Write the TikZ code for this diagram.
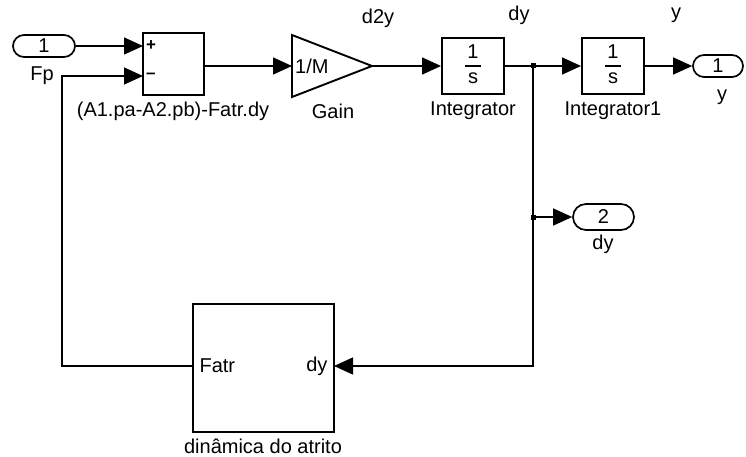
\documentclass[tikz,border=0pt]{standalone}
\usepackage{fontspec}
\setmainfont{Liberation Sans}
\usetikzlibrary{arrows.meta}

\newcommand{\oneovers}{\setlength{\arrayrulewidth}{1.2pt}%
  \begin{tabular}{@{\hspace{2pt}}c@{\hspace{2pt}}}1\\\hline s\end{tabular}}

\begin{document}
\begin{tikzpicture}[x=1pt, y=-1pt, >={Triangle[length=19pt,width=17pt]},
    font=\fontsize{20}{24}\selectfont,
    sig/.style={line width=1.4pt},
    blk/.style={draw, line width=1.9pt, inner sep=0pt},
    port/.style={draw, line width=1.7pt, rounded corners=11pt, minimum height=22pt, inner sep=0pt},
    sign/.style={font=\fontsize{17}{17}\bfseries, anchor=west, inner sep=0pt}]
  \useasboundingbox (0,0) rectangle (746,457);

  % input port and sum
  \node[port, minimum width=62pt] (in1) at (44,46) {1};
  \node (in1-lbl) at (42,76) {Fp};
  \node[blk, minimum width=61pt, minimum height=62pt] (sum) at (173.5,64) {};
  \node[sign] (sum-plus) at (146,46) {+};
  \node[sign] (sum-minus) at (146,76) {–};
  \coordinate (sum-p) at (143,46);
  \coordinate (sum-m) at (143,76);
  \coordinate (sum-out) at (204,66);
  \node (sum-lbl) at (173,111) {(A1.pa-A2.pb)-Fatr.dy};

  % gain 1/M
  \coordinate (gain-in) at (292,66);
  \coordinate (gain-out) at (372,66);
  \draw[line width=1.9pt, line join=miter] (292,35) -- (gain-out) -- (292,97) -- cycle;
  \node[anchor=west, inner sep=1pt] (gain) at (294,66) {1/M};
  \node (gain-lbl) at (333,111) {Gain};

  % integrators
  \node[blk, minimum width=62pt, minimum height=56pt] (int1) at (473,66) {\oneovers};
  \node (int1-lbl) at (473,111) {Integrator};
  \node[blk, minimum width=62pt, minimum height=56pt] (int2) at (613,66) {\oneovers};
  \node (int2-lbl) at (613,111) {Integrator1};

  % output ports
  \node[port, minimum width=50pt] (out1) at (718,66) {1};
  \node (out1-lbl) at (722,97) {y};
  \node[port, minimum width=61pt, minimum height=26pt, rounded corners=13pt] (out2) at (603.5,217) {2};
  \node (out2-lbl) at (603,244) {dy};

  % friction subsystem
  \node[blk, minimum width=141pt, minimum height=128pt] (fatr) at (263.5,368) {};
  \node[anchor=west] (fatr-out-lbl) at (196,366) {Fatr};
  \node[anchor=east] (fatr-in-lbl) at (331,366) {dy};
  \coordinate (fatr-out) at (193,366);
  \coordinate (fatr-in) at (334,366);
  \node (fatr-lbl) at (263,446) {dinâmica do atrito};

  % signal names
  \node (d2y) at (378,18) {d2y};
  \node (dy-sig) at (519,15) {dy};
  \node (y-sig) at (676,15) {y};

  % wires
  \coordinate (br) at (533,66);
  \coordinate (br2) at (533,217);
  \coordinate (fb) at (62,366);
  \draw[sig,->] (in1) -- (sum-p);
  \draw[sig,->] (sum-out) -- (gain-in);
  \draw[sig,->] (gain-out) -- (int1);
  \draw[sig,->] (int1) -- (int2);
  \draw[sig,->] (int2) -- (out1);
  \draw[sig,->] (br) |- (fatr-in);
  \draw[sig,->] (br2) -- (out2);
  \draw[sig,->] (fatr-out) -- (fb) |- (sum-m);
  \fill (br) +(-2.5,-2.5) rectangle +(2.5,2.5);
  \fill (br2) +(-2.5,-2.5) rectangle +(2.5,2.5);
\end{tikzpicture}
\end{document}
